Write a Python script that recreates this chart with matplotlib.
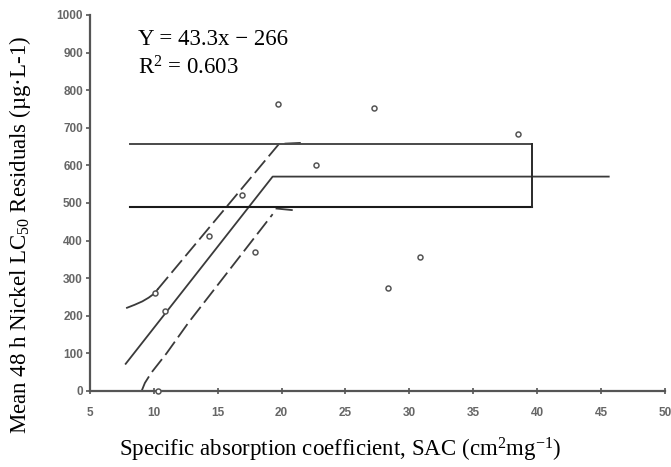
import matplotlib
matplotlib.use("Agg")
import matplotlib.pyplot as plt

plt.rcParams["mathtext.fontset"] = "custom"
plt.rcParams["mathtext.rm"] = "Liberation Serif"
plt.rcParams["mathtext.it"] = "Liberation Serif:italic"

# observed points (SAC, residual)
sac = [19.7, 22.7, 16.9, 14.3, 17.9, 10.1, 10.9, 10.3, 27.2, 38.5, 30.8, 28.3]
resid = [763, 601, 521, 412, 370, 261, 213, 0, 753, 683, 357, 274]

# segmented fit: Y = 43.3x - 266 up to the break, then plateau
fit_x = [7.8, 19.3, 45.6]
fit_y = [72, 570, 570]

# confidence bands
upper_curve_x = [7.9, 8.5, 9.1, 9.6, 10.0, 10.3]
upper_curve_y = [221, 229, 238, 248, 258, 270]
upper_x = [10.3, 19.8, 21.7]
upper_y = [270, 657, 660]
lower_x = [9.05, 9.3, 9.8, 10.4, 11.0, 12.7, 19.3]
lower_y = [0, 21, 48, 74, 100, 181, 470]
lower_tail_x = [19.6, 20.8]
lower_tail_y = [485, 481]

# plateau interval box
box_x = [8.1, 39.6]
box_top = 657
box_bottom = 489

line_col = "#3a3a3a"

fig = plt.figure(figsize=(6.71, 4.67), dpi=100)
ax = fig.add_axes([0.134, 0.163, 0.857, 0.805])

ax.plot(fit_x, fit_y, color=line_col, lw=1.3)
ax.plot(upper_curve_x, upper_curve_y, color=line_col, lw=1.3)
ax.plot(upper_x, upper_y, color=line_col, lw=1.3, dashes=(9, 3))
ax.plot(lower_x, lower_y, color=line_col, lw=1.3, dashes=(9, 3))
ax.plot(lower_tail_x, lower_tail_y, color=line_col, lw=1.3)

ax.plot(box_x, [box_top, box_top], color="#4a4a4a", lw=1.4)
ax.plot(box_x, [box_bottom, box_bottom], color="#1a1a1a", lw=1.5)
ax.plot([box_x[1], box_x[1]], [box_bottom, box_top], color="#2a2a2a", lw=1.4)

ax.plot(sac, resid, linestyle="none", marker="o", ms=3.6, mfc="white",
        mec="#555555", mew=1.1, clip_on=False, zorder=5)

ax.set_xlim(5, 50)
ax.set_ylim(0, 1000)
ax.set_xticks(range(5, 51, 5))
ax.set_yticks(range(0, 1001, 100))

for s in ["top", "right"]:
    ax.spines[s].set_visible(False)
for s in ["left", "bottom"]:
    ax.spines[s].set_color("#555555")
    ax.spines[s].set_linewidth(1.6)

ax.tick_params(axis="x", direction="inout", length=5, width=1.2, colors="#555555",
               labelsize=8.5, pad=9)
ax.tick_params(axis="y", direction="out", length=3, width=1.2, colors="#555555",
               labelsize=8.5, pad=2)
for lab in ax.get_xticklabels() + ax.get_yticklabels():
    lab.set_fontfamily("Liberation Sans")
    lab.set_fontweight("bold")
    lab.set_color("#666666")

serif = "Liberation Serif"
ax.set_xlabel("Specific absorption coefficient, SAC (cm$^{2}$mg$^{\\mathrm{-1}}$)",
              fontfamily=serif, fontsize=16.5, va="center")
ax.xaxis.set_label_coords(0.435, -0.157)
ax.set_ylabel("Mean 48 h Nickel LC$_{50}$ Residuals (µg·L-1)",
              fontfamily=serif, fontsize=16.5, va="center")
ax.yaxis.set_label_coords(-0.122, 0.415)

ax.text(0.083, 0.935, "Y = 43.3x \u2212 266", transform=ax.transAxes,
        fontfamily=serif, fontsize=16.5, va="center")
ax.text(0.083, 0.86, "R$^{2}$ = 0.603", transform=ax.transAxes,
        fontfamily=serif, fontsize=16.5, va="center")

fig.savefig("out.png", dpi=100)
